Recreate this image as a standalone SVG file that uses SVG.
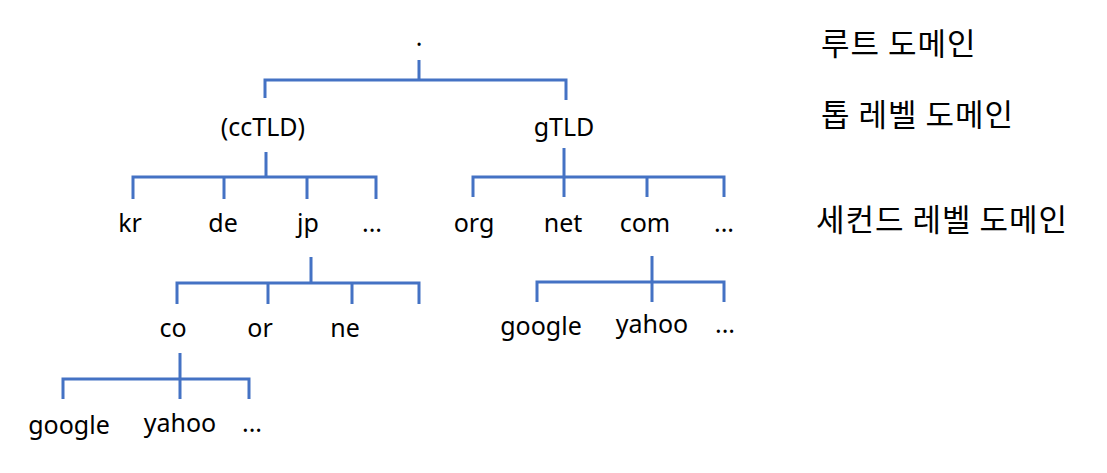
<svg xmlns="http://www.w3.org/2000/svg" width="1107" height="473" viewBox="0 0 1107 473">
<style>
.t{font-family:"Noto Sans","Open Sans",sans-serif;font-size:25px;fill:#000;text-anchor:middle}
.k{font-family:"Noto Sans CJK KR","Noto Sans",sans-serif;font-size:31px;letter-spacing:1px;fill:#000}
.c{stroke:#4472C4;stroke-width:3;fill:none}
</style>
<rect width="1107" height="473" fill="#fff"/>
<g id="connectors">
<path class="c" d="M419,60V80M265,98V80H566V100"/>
<path class="c" d="M266,152V177M133,199V177H376V199M224,177V199M307,177V199"/>
<path class="c" d="M564,148V177M473,197V177H724V197M564,177V197M647,177V197"/>
<path class="c" d="M311,257V283M177,304V283H419V304M268,283V304M352,283V304"/>
<path class="c" d="M652,256V282M537,302V282H724V302M652,282V302"/>
<path class="c" d="M180,353V379M63,399V379H249V399M180,379V399"/>
</g>
<g id="root"><text class="t" x="419" y="46">.</text></g>
<g id="cctld"><text class="t" x="263" y="136">(ccTLD)</text></g>
<g id="gtld"><text class="t" x="564" y="136">gTLD</text></g>
<g id="kr"><text class="t" x="130" y="232">kr</text></g>
<g id="de"><text class="t" x="223" y="232">de</text></g>
<g id="jp"><text class="t" x="308" y="232">jp</text></g>
<g id="cc-more"><text class="t" x="372" y="232">...</text></g>
<g id="org"><text class="t" x="474" y="232">org</text></g>
<g id="net"><text class="t" x="563" y="232">net</text></g>
<g id="com"><text class="t" x="645" y="232">com</text></g>
<g id="g-more"><text class="t" x="724" y="232">...</text></g>
<g id="co"><text class="t" x="173" y="337">co</text></g>
<g id="or"><text class="t" x="260" y="337">or</text></g>
<g id="ne"><text class="t" x="345" y="337">ne</text></g>
<g id="com-google"><text class="t" x="541" y="335">google</text></g>
<g id="com-yahoo"><text class="t" x="652" y="333">yahoo</text></g>
<g id="com-more"><text class="t" x="725" y="333">...</text></g>
<g id="co-google"><text class="t" x="69" y="434">google</text></g>
<g id="co-yahoo"><text class="t" x="180" y="432">yahoo</text></g>
<g id="co-more"><text class="t" x="252" y="432">...</text></g>
<g id="labels">
<text class="k" x="821" y="55">루트 도메인</text>
<text class="k" x="821" y="126">톱 레벨 도메인</text>
<text class="k" x="816" y="231">세컨드 레벨 도메인</text>
</g>
</svg>
